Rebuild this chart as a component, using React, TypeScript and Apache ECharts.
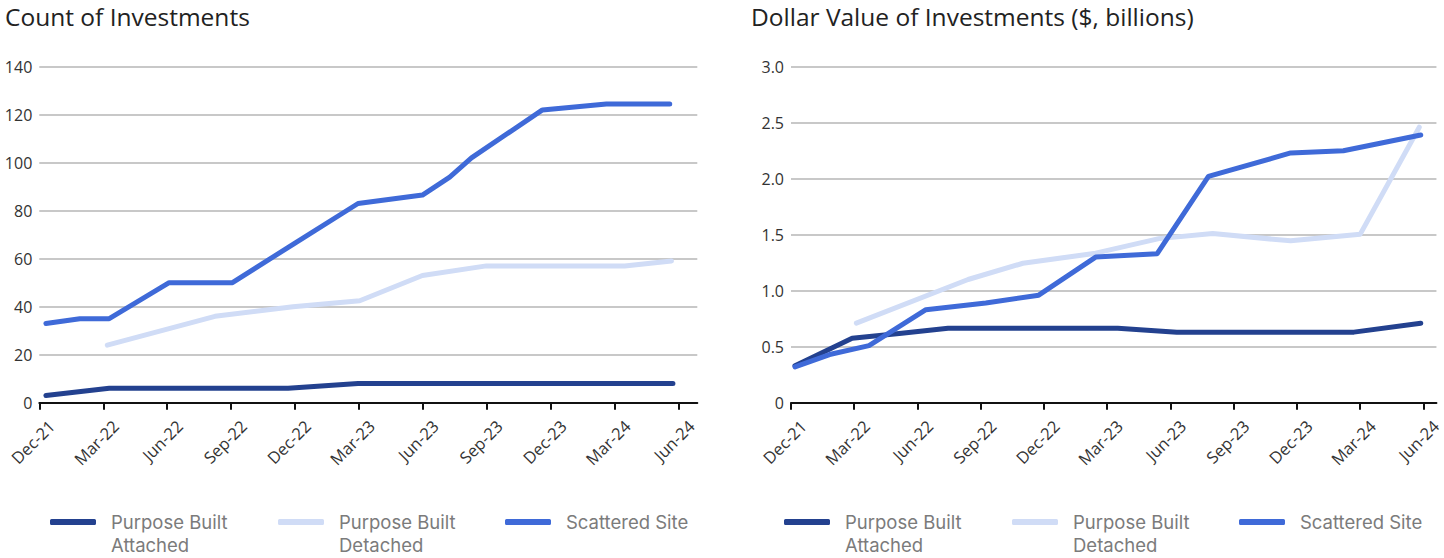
import React, { useEffect, useRef } from "react";
import * as echarts from "echarts";

// x values are months elapsed since 1 Dec 2021 (Dec-21 = 0, Jun-24 = 30)
const tickLabels = ["Dec-21", "Mar-22", "Jun-22", "Sep-22", "Dec-22", "Mar-23", "Jun-23", "Sep-23", "Dec-23", "Mar-24", "Jun-24"];
const tickMonths = [0, 3, 6, 9, 12, 15, 18, 21, 24, 27, 30];
const seriesNames = ["Purpose Built Attached", "Purpose Built Detached", "Scattered Site"];
const legendLabels = ["Purpose Built\nAttached", "Purpose Built\nDetached", "Scattered Site"];
const seriesColors = ["#23418f", "#d0dcf6", "#3f6ad8"];

const countYTicks = [0, 20, 40, 60, 80, 100, 120, 140];
const dollarYTicks = [0, 0.5, 1.0, 1.5, 2.0, 2.5, 3.0];

// Count of Investments
const countAttachedMonths = [0.31, 3.28, 11.67, 14.95, 29.72];
const countAttachedValues = [3, 6, 6, 8, 8];
const countDetachedMonths = [3.19, 8.24, 11.9, 15.03, 17.97, 20.97, 27.46, 29.65];
const countDetachedValues = [24, 36, 40, 42.5, 53, 57, 57, 59];
const countScatteredMonths = [0.31, 1.9, 3.28, 6.09, 9.06, 11.9, 14.95, 17.97, 19.25, 20.27, 23.6, 26.6, 29.57];
const countScatteredValues = [33, 35, 35, 50, 50, 66, 83, 86.5, 94, 102, 122, 124.5, 124.5];

// Dollar Value of Investments ($, billions)
const dollarAttachedMonths = [0.19, 2.9, 5.25, 7.45, 15.5, 18.3, 26.7, 29.87];
const dollarAttachedValues = [0.33, 0.575, 0.62, 0.665, 0.665, 0.63, 0.63, 0.71];
const dollarDetachedMonths = [3.1, 8.4, 11.0, 14.45, 17.45, 20.0, 23.7, 27.0, 29.8];
const dollarDetachedValues = [0.71, 1.1, 1.245, 1.335, 1.465, 1.51, 1.445, 1.505, 2.46];
const dollarScatteredMonths = [0.19, 1.83, 3.7, 6.4, 9.24, 11.75, 14.45, 17.37, 19.8, 23.7, 26.2, 29.87];
const dollarScatteredValues = [0.32, 0.43, 0.51, 0.83, 0.89, 0.96, 1.3, 1.33, 2.02, 2.23, 2.25, 2.39];

const FONT = "'Open Sans', 'Noto Sans', sans-serif";
const LEGEND_FONT = "Inter, 'Open Sans', sans-serif";

const pairs = (xs: number[], ys: number[]) => xs.map((x, i) => [x, ys[i]]);

export default function App() {
  const ref = useRef<HTMLDivElement>(null);

  useEffect(() => {
    if (!ref.current) return;
    const chart = echarts.init(ref.current, undefined, { renderer: "svg" });

    const xAxisBase = (gridIndex: number, max: number) => ({
      type: "value",
      gridIndex,
      min: 0,
      max,
      splitLine: { show: false },
      axisLine: { show: true, lineStyle: { color: "#111", width: 2 } },
      axisTick: { show: true, length: 7, lineStyle: { color: "#111", width: 2 }, customValues: tickMonths },
      axisLabel: {
        customValues: tickMonths,
        rotate: 45,
        verticalAlign: "top",
        padding: [9, 0, 0, 0],
        margin: 8,
        fontSize: 16.5,
        fontFamily: FONT,
        color: "#333",
        formatter: (v: number) => {
          const i = tickMonths.indexOf(Math.round(v));
          return i >= 0 ? tickLabels[i] : "";
        },
      },
    });

    const yAxisBase = (gridIndex: number, ticks: number[], fmt: (v: number) => string) => ({
      type: "value",
      gridIndex,
      min: ticks[0],
      max: ticks[ticks.length - 1],
      interval: ticks[1] - ticks[0],
      axisLine: { show: false },
      axisTick: { show: false },
      axisLabel: { fontSize: 16, fontFamily: FONT, color: "#333", margin: 7, formatter: fmt },
      splitLine: { show: true, lineStyle: { color: "#c8c8c8", width: 2 } },
    });

    const lineSeries = (name: string, color: string, idx: number, data: number[][]) => ({
      type: "line",
      name,
      xAxisIndex: idx,
      yAxisIndex: idx,
      data,
      showSymbol: false,
      symbol: "none",
      lineStyle: { color, width: 5, cap: "round", join: "round" },
      itemStyle: { color },
      emphasis: { disabled: true },
    });

    const legendLefts = [
      [50, 278, 505],
      [784, 1012, 1239],
    ];
    const legends: any[] = [];
    legendLefts.forEach((row) => {
      row.forEach((left, k) => {
        const twoLine = legendLabels[k].includes("\n");
        legends.push({
          left,
          top: twoLine ? 487.5 : 510.5,
          padding: 0,
          orient: "horizontal",
          data: [seriesNames[k]],
          icon: "roundRect",
          itemWidth: 46,
          itemHeight: 6,
          selectedMode: false,
          // a leading empty line keeps the first text line level with the icon
          formatter: () => (twoLine ? "\n" + legendLabels[k] : legendLabels[k]),
          textStyle: {
            fontSize: 18.5,
            fontFamily: LEGEND_FONT,
            color: "#7b7b7b",
            lineHeight: 23,
            padding: [0, 0, 0, 10],
          },
        });
      });
    });

    const option: any = {
      animation: false,
      backgroundColor: "#ffffff",
      title: [
        {
          text: "Count of Investments",
          left: 5,
          top: 4,
          padding: 0,
          textStyle: { fontSize: 24.5, fontWeight: "normal", color: "#222", fontFamily: FONT },
        },
        {
          text: "Dollar Value of Investments ($, billions)",
          left: 751,
          top: 4,
          padding: 0,
          textStyle: { fontSize: 24.5, fontWeight: "normal", color: "#222", fontFamily: FONT },
        },
      ],
      legend: legends,
      grid: [
        { left: 39.3, top: 66.7, width: 658, height: 336, containLabel: false },
        { left: 791, top: 66.7, width: 653, height: 336, containLabel: false },
      ],
      xAxis: [xAxisBase(0, 658 / 21.32), xAxisBase(1, 653 / 21.33)],
      yAxis: [
        yAxisBase(0, countYTicks, (v: number) => String(v)),
        yAxisBase(1, dollarYTicks, (v: number) => (v === 0 ? "0" : v.toFixed(1))),
      ],
      series: [
        lineSeries(seriesNames[0], seriesColors[0], 0, pairs(countAttachedMonths, countAttachedValues)),
        lineSeries(seriesNames[1], seriesColors[1], 0, pairs(countDetachedMonths, countDetachedValues)),
        lineSeries(seriesNames[2], seriesColors[2], 0, pairs(countScatteredMonths, countScatteredValues)),
        lineSeries(seriesNames[0], seriesColors[0], 1, pairs(dollarAttachedMonths, dollarAttachedValues)),
        lineSeries(seriesNames[1], seriesColors[1], 1, pairs(dollarDetachedMonths, dollarDetachedValues)),
        lineSeries(seriesNames[2], seriesColors[2], 1, pairs(dollarScatteredMonths, dollarScatteredValues)),
      ],
    };

    chart.setOption(option);
    return () => chart.dispose();
  }, []);

  return (
    <div
      ref={ref}
      style={{ position: "fixed", left: 0, top: 0, width: 1444, height: 558, background: "#fff" }}
    />
  );
}
